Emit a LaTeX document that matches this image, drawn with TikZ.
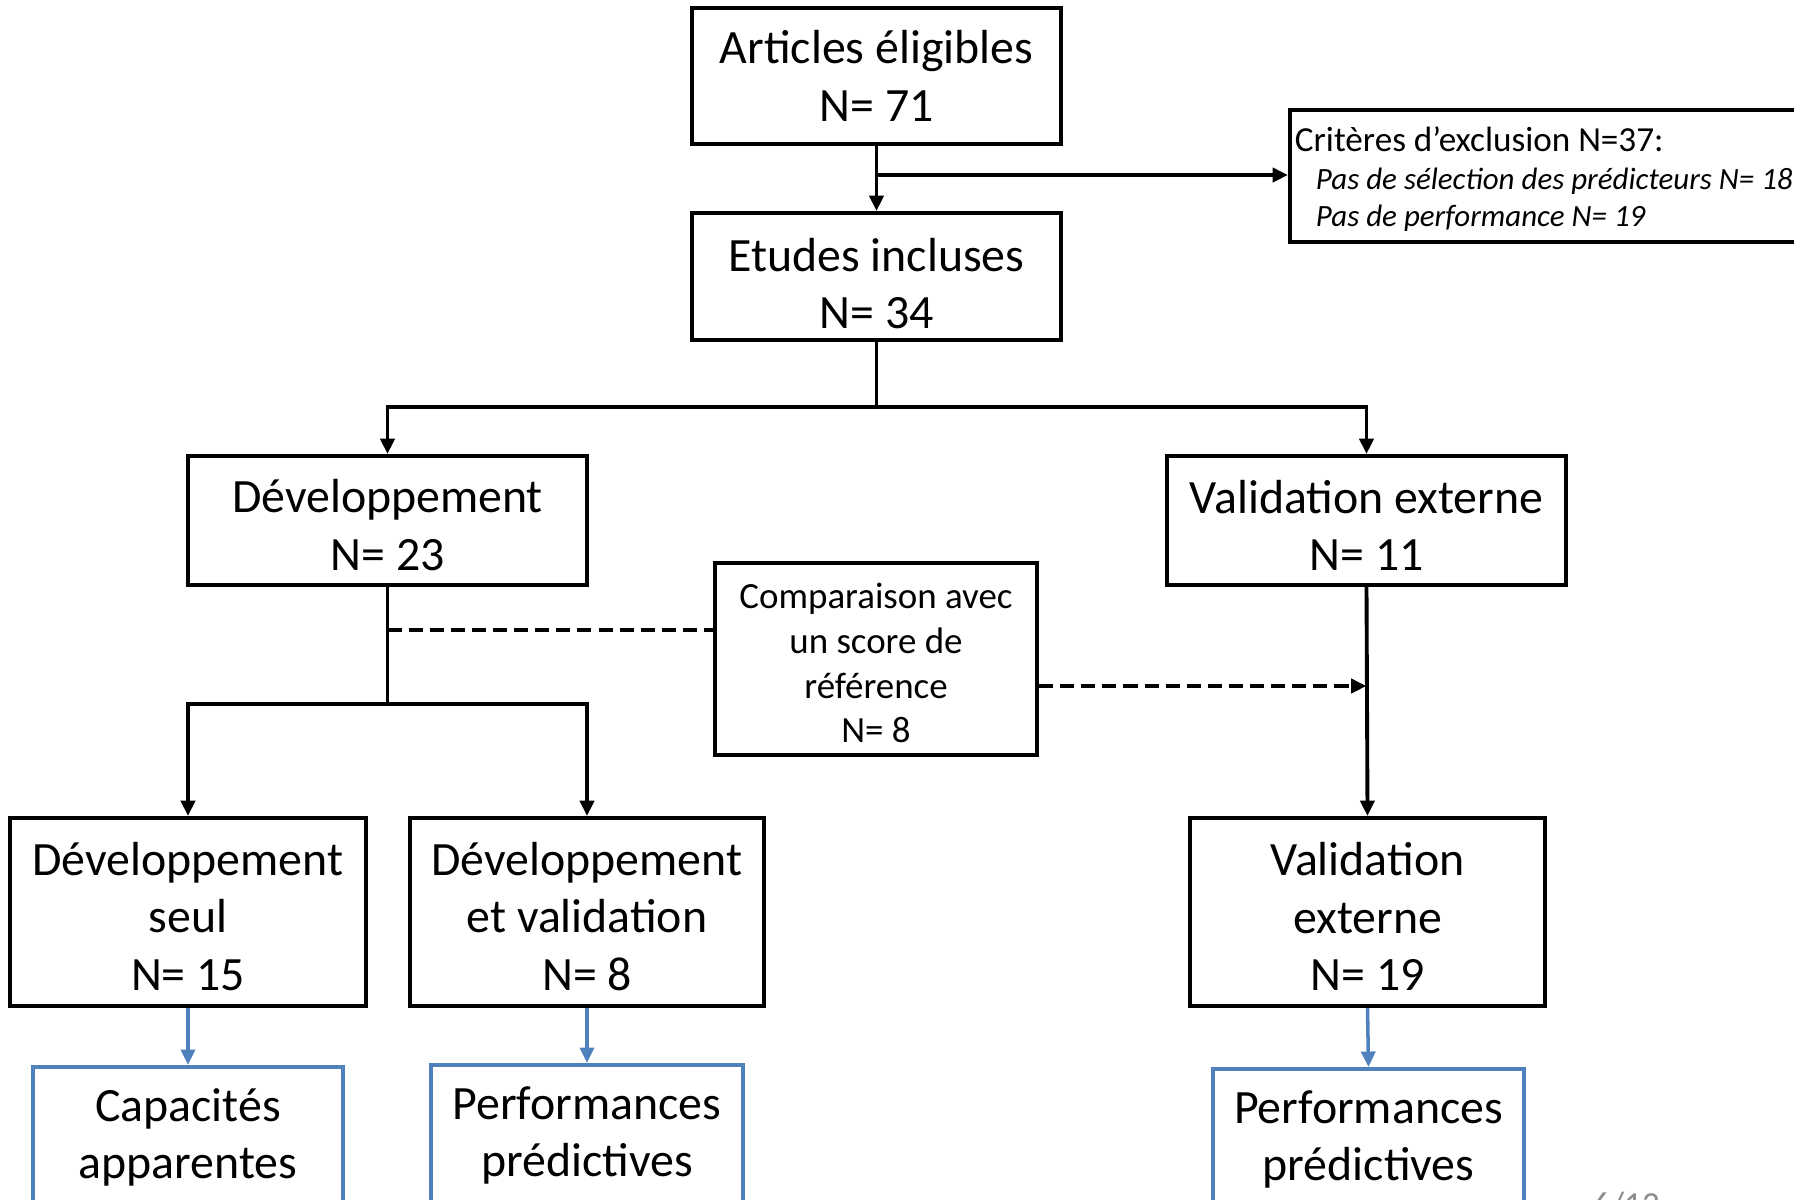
\documentclass[tikz,border=0pt]{standalone}
\usepackage{fontspec}
\setmainfont{Carlito}
\usetikzlibrary{arrows.meta}
\definecolor{acc}{RGB}{79,129,189}
\newcommand{\tup}[1]{\rule{0pt}{#1}}
\newcommand{\tightsp}{\spaceskip=0.226em plus 0.1em minus 0.05em\relax}
\begin{document}
\begin{tikzpicture}[x=0.01cm,y=-0.01cm,
  box/.style={draw=black,line width=1.1pt,inner sep=0pt,align=center,font=\fontsize{13.6}{16.4}\selectfont},
  bbox/.style={box,draw=acc,line width=1pt},
  arr/.style={line width=1.1pt,-{Triangle[length=4.4pt,width=4pt]}},
  barr/.style={draw=acc,line width=1pt,-{Triangle[length=4.4pt,width=4pt]}},
  ln/.style={line width=1.1pt},
  dsh/.style={dash pattern=on 4pt off 2pt}
]
\useasboundingbox (0,0) rectangle (1794,1199);

\node[box,minimum width=3.69cm,minimum height=1.36cm] (A) at (876.5,76) {Articles éligibles\\N= 71};
\node[box,minimum width=3.69cm,minimum height=1.27cm] (B) at (876.5,276.5) {\tup{13.5pt}Etudes incluses\\N= 34};
\node[box,anchor=west,inner xsep=0.05cm,inner ysep=0pt,text width=6.6cm,text height=0.42cm,text depth=0.90cm,align=left,font=\fontsize{10}{10.6}\selectfont] (Excl) at (1288,176)
  {\tightsp Critères d’exclusion N=37:\\
   \hspace*{0.21cm}{\fontsize{8.8}{10.6}\selectfont\itshape\tightsp Pas de sélection des prédicteurs N= 18}\\
   \hspace*{0.21cm}{\fontsize{8.8}{10.6}\selectfont\itshape\tightsp Pas de performance N= 19}};

\node[box,minimum width=3.99cm,minimum height=1.29cm] (Dev) at (387.5,520.5) {\tup{12.2pt}Développement\\N= 23};
\node[box,minimum width=3.99cm,minimum height=1.29cm] (ValExt) at (1366.5,520.5) {\tup{12.2pt}Validation externe\\N= 11};
\node[box,minimum width=3.22cm,minimum height=1.92cm,font=\fontsize{10.5}{12.7}\selectfont] (Comp) at (876,659) {\tup{9.6pt}Comparaison avec\\un score de\\référence\\N= 8};

\node[box,minimum width=3.56cm,minimum height=1.88cm] (DevSeul) at (188,912) {\tup{12pt}Développement\\seul\\N= 15};
\node[box,minimum width=3.54cm,minimum height=1.88cm] (DevVal) at (587,912) {\tup{12pt}Développement\\et validation\\N= 8};
\node[box,minimum width=3.55cm,minimum height=1.88cm] (ValExt2) at (1367.5,912) {\tup{12pt}Validation\\externe\\N= 19};

\node[bbox,anchor=north,minimum width=3.10cm,minimum height=1.41cm] (Cap) at (188,1065) {Capacités\\apparentes};
\node[bbox,anchor=north,minimum width=3.12cm,minimum height=1.41cm] (Perf1) at (587,1063) {Performances\\prédictives};
\node[bbox,anchor=north,minimum width=3.11cm,minimum height=1.41cm] (Perf2) at (1368.5,1067) {Performances\\prédictives};

\node[anchor=north west,inner sep=0pt,text=black!45,font=\fontsize{10}{12}\selectfont] (pg) at (1592,1191) {6/13};

% connectors
\coordinate (x1) at (876.5,175);
\draw[arr] (A.south) -- (B.north);
\draw[arr] (x1) -- (x1 -| Excl.west);

\coordinate (s1) at (876.5,407);
\draw[ln] (B.south) -- (s1);
\draw[arr] (s1) -| (Dev.north);
\draw[arr] (s1) -| (ValExt.north);

\coordinate (s2) at (387.5,704);
\draw[ln] (Dev.south) -- (s2);
\draw[arr] (s2) -| (DevSeul.north);
\draw[arr] (s2) -| (DevVal.north);

\coordinate (d1) at (387.5,630);
\draw[ln,dsh] (d1) -- (d1 -| Comp.west);
\coordinate (d2) at (1366.5,686);
\draw[arr,dsh] (d2 -| Comp.east) -- (d2);

\draw[arr] (ValExt.south) -- (ValExt2.north);

\draw[barr] (DevSeul.south) -- (Cap.north);
\draw[barr] (DevVal.south) -- (Perf1.north);
\draw[barr] (ValExt2.south) -- (Perf2.north);
\end{tikzpicture}
\end{document}
